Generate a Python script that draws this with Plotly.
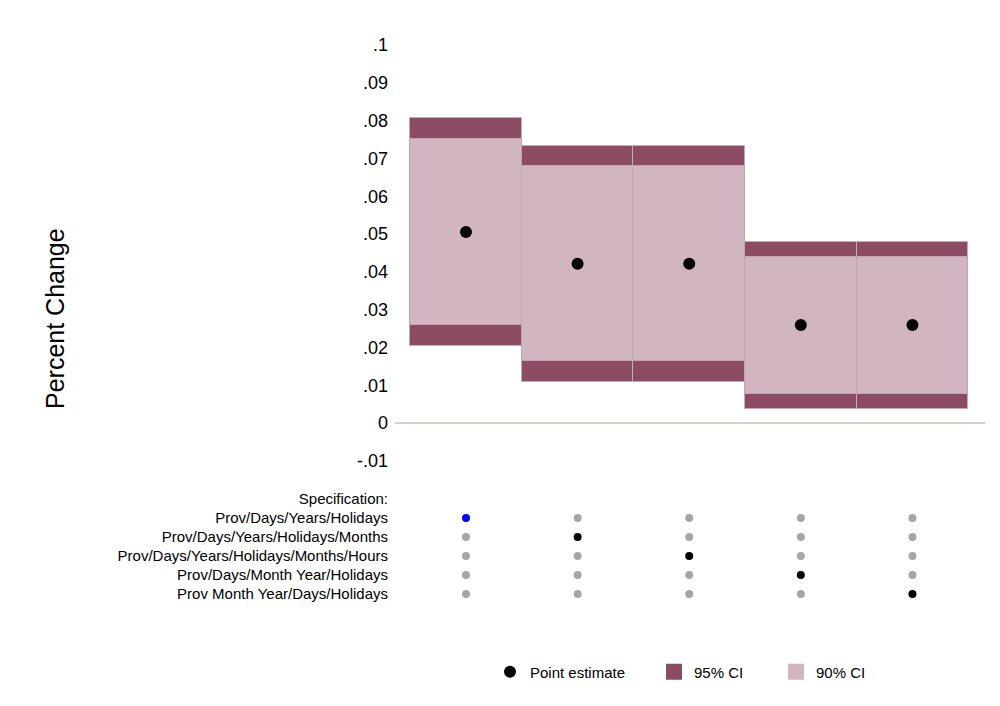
import plotly.graph_objects as go

# Estimates and confidence bounds for each specification
spec_ids = [1, 2, 3, 4, 5]
point_est = [0.0505, 0.0421, 0.0421, 0.0259, 0.0259]
ci95_low = [0.0204, 0.0108, 0.0108, 0.0037, 0.0037]
ci95_high = [0.0807, 0.0733, 0.0733, 0.0479, 0.0479]
ci90_low = [0.0259, 0.0164, 0.0164, 0.0077, 0.0077]
ci90_high = [0.0751, 0.0680, 0.0680, 0.0439, 0.0439]

spec_labels = [
    "Prov/Days/Years/Holidays",
    "Prov/Days/Years/Holidays/Months",
    "Prov/Days/Years/Holidays/Months/Hours",
    "Prov/Days/Month Year/Holidays",
    "Prov Month Year/Days/Holidays",
]
y_tickvals = [-0.01, 0, 0.01, 0.02, 0.03, 0.04, 0.05, 0.06, 0.07, 0.08, 0.09, 0.1]
y_ticktext = ["-.01", "0", ".01", ".02", ".03", ".04", ".05", ".06", ".07", ".08", ".09", ".1"]

DARK = "#8A4B63"
LIGHT = "#D1B6C1"
FONT = "Liberation Sans, Arial, sans-serif"

fig = go.Figure()

# 95% CI bands (darker, drawn underneath)
fig.add_trace(go.Bar(
    x=spec_ids, y=[h - l for h, l in zip(ci95_high, ci95_low)], base=ci95_low,
    width=1, marker=dict(color=DARK, line=dict(color="#C9A9B6", width=1)),
    name="95% CI", showlegend=False, xaxis="x", yaxis="y", hoverinfo="skip",
))
# 90% CI bands (lighter, on top)
fig.add_trace(go.Bar(
    x=spec_ids, y=[h - l for h, l in zip(ci90_high, ci90_low)], base=ci90_low,
    width=1, marker=dict(color=LIGHT, line=dict(color="#C4A4B1", width=1)),
    name="90% CI", showlegend=False, xaxis="x", yaxis="y", hoverinfo="skip",
))
# Point estimates
fig.add_trace(go.Scatter(
    x=spec_ids, y=point_est, mode="markers",
    marker=dict(color="black", size=12, opacity=1, line=dict(width=0)),
    name="Point estimate", showlegend=True, legend="legend",
    xaxis="x", yaxis="y",
))

# Legend entries for the CI bands
fig.add_trace(go.Scatter(
    x=[None], y=[None], mode="markers",
    marker=dict(color=DARK, size=20, symbol="square"), name="95% CI",
    legend="legend2", xaxis="x", yaxis="y",
))
fig.add_trace(go.Scatter(
    x=[None], y=[None], mode="markers",
    marker=dict(color=LIGHT, size=20, symbol="square"), name="90% CI",
    legend="legend3", xaxis="x", yaxis="y",
))

# Specification indicator matrix
for row, _ in enumerate(spec_labels, start=1):
    colors = []
    for col in spec_ids:
        if col == row:
            colors.append("#0000FF" if col == 1 else "#000000")
        else:
            colors.append("#A6A6A6")
    fig.add_trace(go.Scatter(
        x=spec_ids, y=[row] * len(spec_ids), mode="markers",
        marker=dict(color=colors, size=8, opacity=1, line=dict(width=0)),
        showlegend=False, xaxis="x2", yaxis="y2", hoverinfo="skip",
    ))

W, H = 1000, 706
x_dom = [395 / W, 985 / W]
x_range = [0.364, 5.65]

legend_common = dict(orientation="h", y=1 - 672 / H, yanchor="middle",
                     xanchor="left", font=dict(size=15, family=FONT),
                     itemsizing="trace", bgcolor="rgba(0,0,0,0)")

fig.update_layout(
    width=W, height=H,
    margin=dict(l=0, r=0, t=0, b=0),
    paper_bgcolor="white", plot_bgcolor="white",
    barmode="overlay", bargap=0,
    font=dict(family=FONT, color="black"),
    xaxis=dict(domain=x_dom, range=x_range, showticklabels=False, showgrid=False,
               zeroline=False, showline=False, ticks=""),
    yaxis=dict(domain=[1 - 475 / H, 1 - 30 / H], range=[-0.01376, 0.10397],
               tickvals=y_tickvals, ticktext=y_ticktext, showgrid=False,
               zeroline=True, zerolinecolor="#D2D2CA", zerolinewidth=2,
               showline=False, ticks="", ticklabelstandoff=6,
               tickfont=dict(size=18, family=FONT)),
    xaxis2=dict(domain=x_dom, range=x_range, showticklabels=False, showgrid=False,
                zeroline=False, showline=False, ticks="", anchor="y2"),
    yaxis2=dict(domain=[1 - 620 / H, 1 - 490 / H], range=[6.368, -0.474],
                tickvals=[0, 1, 2, 3, 4, 5], ticktext=["Specification:"] + spec_labels,
                showgrid=False, zeroline=False, showline=False, ticks="",
                ticklabelstandoff=6, tickfont=dict(size=15, family=FONT), anchor="x2"),
    legend=dict(x=490 / W, **legend_common),
    legend2=dict(x=654 / W, **legend_common),
    legend3=dict(x=776 / W, **legend_common),
    annotations=[dict(text="Percent Change", x=55 / W, y=1 - 319 / H,
                      xref="paper", yref="paper", textangle=-90, showarrow=False,
                      xanchor="center", yanchor="middle",
                      font=dict(size=25, family=FONT))],
)

fig.write_html("out.html")
